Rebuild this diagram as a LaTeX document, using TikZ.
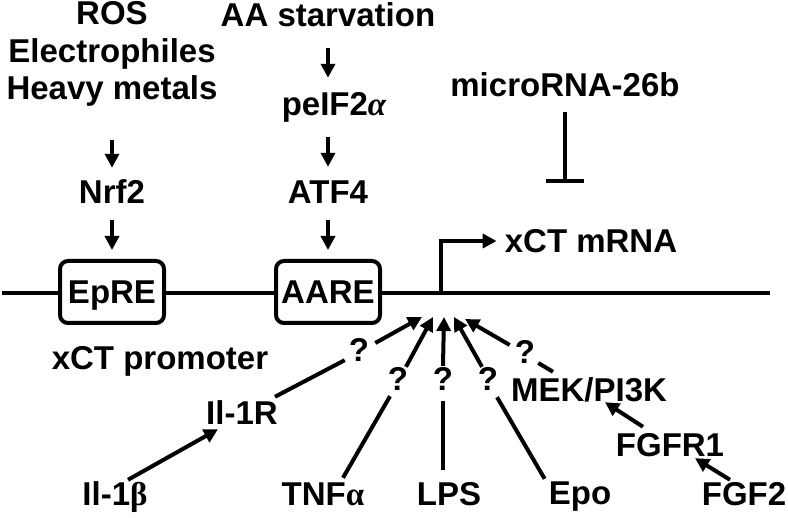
\documentclass[tikz,border=0pt]{standalone}
\usepackage{fontspec}
\setmainfont{Liberation Sans}
\newfontfamily\grfont{Liberation Serif}
\usetikzlibrary{arrows.meta,positioning}

\begin{document}
\begin{tikzpicture}[
    x=1pt, y=-1pt,
    lbl/.style={font=\fontsize{33}{37.5}\selectfont\bfseries, inner sep=0pt, text height=24pt, text depth=0pt, anchor=base},
    elem/.style={draw, rounded corners=8pt, line width=4pt, fill=white, minimum width=104pt, minimum height=62pt, inner sep=0pt, text height=24pt, text depth=0pt, font=\fontsize{33}{37.5}\selectfont\bfseries},
    arrow/.style={-{Triangle[length=14pt,width=14pt]}, line width=4pt},
    link/.style={line width=4pt},
    inhib/.style={-{Bar[width=38pt]}, line width=4pt}
]
    \useasboundingbox (0,0) rectangle (788,518);

    % promoter line and free ends
    \coordinate (lft) at (2,293);
    \coordinate (rgt) at (770,293);
    \coordinate (tss) at (441,293);
    \coordinate (blk) at (565,183);
    \coordinate (e1) at (422,317);
    \coordinate (e2) at (433,317);
    \coordinate (e3) at (444,317);
    \coordinate (e4) at (454,317);
    \coordinate (e5) at (465,319);
    \draw[link] (lft) -- (rgt);

    % upstream signals
    \node[font=\fontsize{33}{37.5}\selectfont\bfseries, inner sep=0pt, align=center, anchor=south] (ros) at (112,107) {ROS\\Electrophiles\\Heavy metals};
    \node[lbl] (nrf2) at (112,204) {Nrf2};
    \node[lbl] (aa) at (328,27) {AA starvation};
    \node[lbl] (peif) at (334,116) {peIF2{\grfont\itshape α}};
    \node[lbl] (atf4) at (328,204) {ATF4};
    \node[lbl] (mirna) at (565,97) {microRNA-26b};
    \node[lbl] (mrna) at (591,253) {xCT mRNA};

    % promoter elements
    \node[elem] (epre) at (112,292) {EpRE};
    \node[elem] (aare) at (328,292) {AARE};
    \node[lbl] (prom) at (160,370) {xCT promoter};

    % cytokines and growth factors
    \node[lbl] (il1b) at (115,506) {Il-1{\grfont β}};
    \node[lbl] (il1r) at (242,425) {Il-1R};
    \node[lbl] (tnf) at (323,506) {TNF{\grfont α}};
    \node[lbl] (lps) at (449,506) {LPS};
    \node[lbl] (epo) at (580,505) {Epo};
    \node[lbl] (mek) at (589,402) {MEK/PI3K};
    \node[lbl] (fgfr1) at (670,457) {FGFR1};
    \node[lbl] (fgf2) at (744,506) {FGF2};
    \node[lbl] (q1) at (359,362) {?};
    \node[lbl] (q2) at (398,391) {?};
    \node[lbl] (q3) at (443,391) {?};
    \node[lbl] (q4) at (488,391) {?};
    \node[lbl] (q5) at (525,364) {?};

    % top arrows
    \draw[arrow] ([yshift=-33pt]ros.south) -- ([yshift=12pt]nrf2.north);
    \draw[arrow] ([yshift=-16pt]nrf2.south) -- ([yshift=9pt]epre.north);
    \draw[arrow] ([yshift=-21pt]aa.south) -- ([xshift=-6pt,yshift=14pt]peif.north);
    \draw[arrow] ([xshift=-6pt,yshift=-21pt]peif.south) -- ([yshift=13pt]atf4.north);
    \draw[arrow] ([yshift=-16pt]atf4.south) -- ([yshift=9pt]aare.north);
    \draw[inhib] ([yshift=-15pt]mirna.south) -- (blk);
    \draw[arrow] (tss) |- ([xshift=-8pt]mrna.west);

    % bottom arrows
    \draw[arrow] ([xshift=13pt,yshift=2pt]il1b.north) -- ([xshift=-24pt,yshift=-4pt]il1r.south);
    \draw[link] ([xshift=-3pt,yshift=4pt]il1r.north east) -- ([xshift=-4pt,yshift=2pt]q1.south west);
    \draw[arrow] ([xshift=6pt,yshift=7pt]q1.east) -- (e1);
    \draw[link] ([xshift=20pt,yshift=4pt]tnf.north) -- ([xshift=-8pt,yshift=-5pt]q2.south);
    \draw[arrow] ([xshift=8pt]q2.north) -- (e2);
    \draw[link] ([xshift=-6pt,yshift=12pt]lps.north) -- ([yshift=-10pt]q3.south);
    \draw[arrow] ([yshift=1pt]q3.north) -- (e3);
    \draw[link] ([xshift=-4pt,yshift=2pt]epo.north west) -- ([xshift=9pt,yshift=-6pt]q4.south);
    \draw[arrow] ([xshift=-6pt]q4.north) -- (e4);
    \draw[link] ([xshift=-36pt,yshift=6pt]mek.north) -- ([xshift=3pt,yshift=-11pt]q5.east);
    \draw[arrow] ([xshift=-5pt,yshift=7pt]q5.west) -- (e5);
    \draw[arrow] ([xshift=-27pt,yshift=6pt]fgfr1.north) -- ([xshift=16pt]mek.south);
    \draw[arrow] ([xshift=-14pt,yshift=2pt]fgf2.north) -- ([xshift=25pt,yshift=-1pt]fgfr1.south);
\end{tikzpicture}
\end{document}
